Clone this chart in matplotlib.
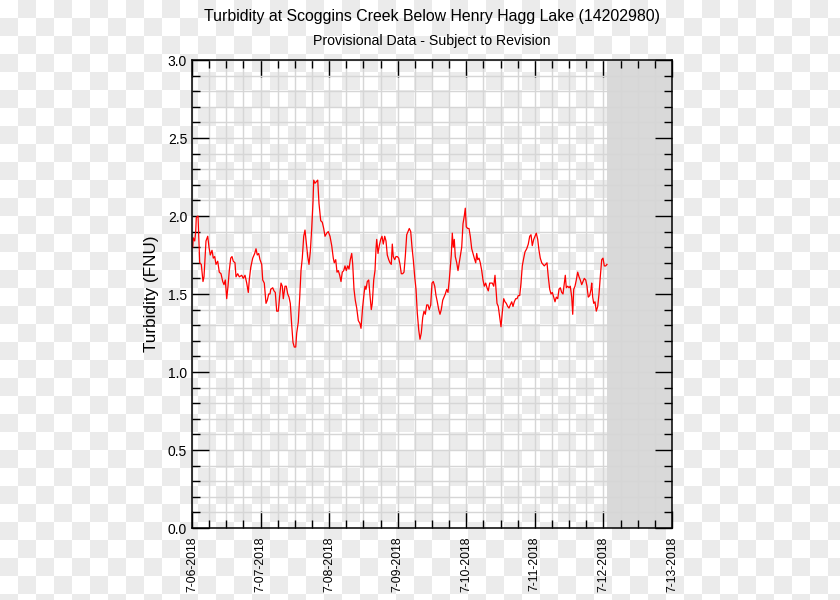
import numpy as np
import pandas as pd
import matplotlib
matplotlib.use('Agg')
import matplotlib.pyplot as plt
import matplotlib.dates as mdates
from matplotlib.ticker import MultipleLocator, FuncFormatter

plt.rcParams['font.family'] = ['Liberation Sans', 'DejaVu Sans']

# hours after 2018-07-06 00:00 and turbidity (FNU)
hours = [0.25, 0.45, 0.95, 1.3, 1.5, 2.1, 2.35, 2.7, 3.25, 3.85, 4.2, 4.55, 4.9, 5.5, 5.95,
         6.4, 7.0, 7.45, 7.95, 8.4, 9.0, 9.55, 10.15, 10.75, 11.2, 11.65, 12.15, 12.6, 13.05,
         13.55, 14.0, 14.45, 15.05, 15.4, 16.0, 16.55, 17.4, 17.95, 18.55, 19.15, 19.7, 20.05,
         20.55, 21.25, 21.95, 22.4, 22.85, 23.35, 23.8, 24.4, 24.75, 25.3, 25.9, 26.35, 26.85,
         27.3, 27.55, 28.25, 28.7, 29.15, 29.4, 29.65, 30.2, 30.7,
         31.15, 31.6, 31.95, 32.55, 33.0, 33.5, 33.95, 34.4, 34.9, 35.35, 35.8, 36.3, 36.65,
         37.2, 37.7, 38.15, 38.6, 39.1, 39.55, 40.0, 40.5, 40.95, 41.4, 41.9, 42.35, 42.6,
         43.05, 43.5, 44.0, 44.45, 45.05, 45.6, 46.1, 46.55, 47.15, 47.7, 48.3, 48.9, 49.45,
         49.8, 50.3, 50.75, 51.2, 51.7, 52.15, 52.6, 53.1, 53.55, 54.0, 54.5, 54.95, 55.4,
         55.9, 56.25, 56.7, 57.15, 57.65, 58.2, 58.8, 59.15,
         59.75, 60.2, 60.55, 60.9, 61.35, 61.85, 62.3, 62.75, 63.1, 63.6, 64.05, 64.4, 64.65,
         65.1, 65.55, 66.05, 66.5, 66.95, 67.45, 67.9, 68.35, 68.85, 69.3, 69.75, 70.1, 70.45,
         70.95, 71.4, 71.85, 72.35, 72.8, 73.25, 73.75, 74.2, 74.65, 75.15, 75.6, 76.05,
         76.55, 77.0, 77.45, 77.95, 78.4, 78.85, 79.35, 79.8, 80.25, 80.75, 81.2, 81.65,
         82.15, 82.6, 83.05, 83.55, 84.0, 84.45, 84.95, 85.4, 85.85, 86.35, 86.8, 87.25,
         87.75, 88.2, 88.65, 89.15, 89.6, 90.05,
         90.75, 91.1, 91.45, 91.8, 92.15, 92.65, 93.1, 93.45, 93.9, 94.4, 94.85, 95.3, 95.65,
         96.0, 96.5, 96.95, 97.4, 97.9, 98.35, 98.8, 99.3, 99.65, 100.0, 100.45, 100.9,
         101.4, 101.85, 102.3, 102.8, 103.25, 103.7, 104.2, 104.65, 105.1, 105.6, 106.05,
         106.4, 106.75, 107.2, 107.7, 108.15, 108.6, 109.1, 109.55, 110.0, 110.5, 110.95,
         111.4, 111.9, 112.35, 112.8, 113.3, 113.75, 114.2, 114.7, 115.15, 115.6, 116.1,
         116.55, 117.15, 117.7, 118.2, 118.65, 119.1, 119.6, 120.05, 120.5, 121.0, 121.45,
         121.9, 122.4, 122.85, 123.3, 123.8, 124.25, 124.7, 125.2, 125.65, 126.1, 126.6,
         127.05, 127.5, 128.0, 128.45, 128.9, 129.4, 129.85, 130.3, 130.65, 131.0, 131.5,
         131.95, 132.4, 132.9, 133.25, 133.6, 134.05, 134.5, 135.0, 135.45, 135.9, 136.4,
         136.85, 137.3, 137.8, 138.25, 138.7, 139.2, 139.65, 139.9, 140.25, 140.6, 141.05,
         141.5, 142.0, 142.45, 142.9, 143.4, 143.85, 144.3, 144.8, 145.25]

fnu = [1.80, 1.86, 1.84, 1.90, 1.99, 2.00, 1.87, 1.70, 1.69, 1.58, 1.61, 1.73, 1.84, 1.87, 1.80,
       1.75, 1.78, 1.73, 1.74, 1.69, 1.71, 1.64, 1.63, 1.58, 1.56, 1.59, 1.47, 1.55, 1.65,
       1.73, 1.74, 1.71, 1.70, 1.61, 1.63, 1.61, 1.62, 1.60, 1.62, 1.57, 1.51, 1.59,
       1.67, 1.73, 1.76, 1.79, 1.75, 1.76, 1.72, 1.69, 1.59, 1.57, 1.44, 1.46, 1.50,
       1.50, 1.53, 1.54, 1.52, 1.51, 1.45, 1.39, 1.39, 1.49,
       1.57, 1.55, 1.47, 1.55, 1.55, 1.50, 1.48, 1.44, 1.30, 1.19, 1.16, 1.16, 1.25,
       1.32, 1.48, 1.65, 1.73, 1.87, 1.91, 1.83, 1.74, 1.69, 1.77, 1.92, 2.09, 2.23,
       2.21, 2.22, 2.23, 2.08, 1.97, 1.96, 1.92, 1.87, 1.89, 1.90, 1.87, 1.81, 1.73,
       1.70, 1.72, 1.64, 1.65, 1.62, 1.58, 1.64, 1.65, 1.68, 1.65, 1.68, 1.66, 1.72,
       1.76, 1.69, 1.53, 1.46, 1.41, 1.33, 1.31, 1.28,
       1.42, 1.50, 1.55, 1.53, 1.58, 1.59, 1.49, 1.40, 1.44, 1.59, 1.65, 1.79, 1.85,
       1.76, 1.81, 1.85, 1.87, 1.82, 1.87, 1.84, 1.75, 1.72, 1.70, 1.69, 1.82, 1.74,
       1.72, 1.74, 1.74, 1.73, 1.69, 1.63, 1.63, 1.64, 1.74, 1.88, 1.90, 1.92,
       1.90, 1.80, 1.72, 1.61, 1.53, 1.38, 1.27, 1.21, 1.25, 1.35, 1.39, 1.37,
       1.43, 1.43, 1.40, 1.43, 1.57, 1.58, 1.55, 1.49, 1.45, 1.40, 1.37, 1.40,
       1.46, 1.48, 1.50, 1.53, 1.51, 1.59,
       1.75, 1.89, 1.80, 1.85, 1.74, 1.70, 1.65, 1.69, 1.74, 1.80, 1.95, 2.00, 2.05,
       1.93, 1.92, 1.92, 1.87, 1.79, 1.76, 1.73, 1.70, 1.76, 1.72, 1.73, 1.70,
       1.65, 1.59, 1.55, 1.57, 1.54, 1.52, 1.57, 1.57, 1.57, 1.55, 1.62,
       1.53, 1.44, 1.42, 1.35, 1.29, 1.38, 1.47, 1.45, 1.44, 1.42, 1.41,
       1.43, 1.45, 1.42, 1.45, 1.47, 1.47, 1.49, 1.49, 1.57, 1.68, 1.73,
       1.77, 1.79, 1.82, 1.87, 1.88, 1.81, 1.85, 1.87, 1.89, 1.85, 1.78,
       1.73, 1.70, 1.69, 1.68, 1.69, 1.70, 1.61, 1.53, 1.50, 1.51, 1.48,
       1.45, 1.48, 1.47, 1.53, 1.54, 1.51, 1.50, 1.57, 1.62, 1.54, 1.55,
       1.54, 1.55, 1.48, 1.37, 1.53, 1.55, 1.59, 1.64, 1.61, 1.59, 1.56,
       1.58, 1.60, 1.59, 1.55, 1.48, 1.49, 1.53, 1.57, 1.48, 1.44, 1.45,
       1.39, 1.42, 1.50, 1.61, 1.72, 1.73, 1.68, 1.68, 1.69]

start = pd.Timestamp('2018-07-06')
end = pd.Timestamp('2018-07-13')
no_data_from = pd.Timestamp('2018-07-12 01:15')
title = 'Turbidity at Scoggins Creek Below Henry Hagg Lake (14202980)'
subtitle = 'Provisional Data - Subject to Revision'

times = start + pd.to_timedelta(hours, unit='h')

fig = plt.figure(figsize=(8.4, 6), dpi=100)

# transparent-image checkerboard behind everything
W, H, sq = 840, 600, 18
yy, xx = np.mgrid[0:H, 0:W]
chk = ((xx // sq + yy // sq) % 2).astype(float)
bg = np.where(chk[..., None] == 1, 235 / 255, 1.0) * np.ones((H, W, 3))
bgax = fig.add_axes([0, 0, 1, 1], zorder=-1)
bgax.imshow(bg, aspect='auto', interpolation='nearest')
bgax.axis('off')

ax = fig.add_axes([192 / 840, 72 / 600, 480 / 840, 468 / 600], zorder=1)
ax.set_facecolor('none')

ax.axvspan(no_data_from, end, color='#d9d9d9', zorder=1, lw=0)
ax.plot(times, fnu, color='red', lw=0.9, zorder=3)

ax.set_xlim(start, end)
ax.set_ylim(0, 3.0)

ax.xaxis.set_major_locator(mdates.DayLocator())
ax.xaxis.set_minor_locator(mdates.HourLocator(byhour=[0, 6, 12, 18]))
ax.xaxis.set_major_formatter(FuncFormatter(
    lambda v, p: '{}-{:%d-%Y}'.format(mdates.num2date(v).month, mdates.num2date(v))))
ax.yaxis.set_major_locator(MultipleLocator(0.5))
ax.yaxis.set_minor_locator(MultipleLocator(0.1))
ax.yaxis.set_major_formatter(FuncFormatter(lambda v, p: '%.1f' % v))

ax.grid(which='both', color='#d6d6d6', lw=1)
for gl in ax.get_xgridlines() + ax.get_ygridlines():
    gl.set_zorder(2)

ax.tick_params(which='both', direction='in', top=True, right=True, width=1, color='black')
ax.tick_params(which='major', length=12)
ax.tick_params(which='minor', length=6)
ax.tick_params(axis='y', labelsize=10)
ax.tick_params(axis='x', labelrotation=90, pad=6, labelsize=8.8)
for s in ax.spines.values():
    s.set_linewidth(1.1)
    s.set_zorder(5)

ax.set_ylabel('Turbidity (FNU)', fontsize=12.3)
ax.yaxis.set_label_coords(-0.068, 0.5)

fig.text(432 / 840, 1 - 17 / 600, title, ha='center', va='center', fontsize=11.4)
fig.text(432 / 840, 1 - 41 / 600, subtitle, ha='center', va='center', fontsize=10.2)

fig.savefig('out.png', dpi=100)
